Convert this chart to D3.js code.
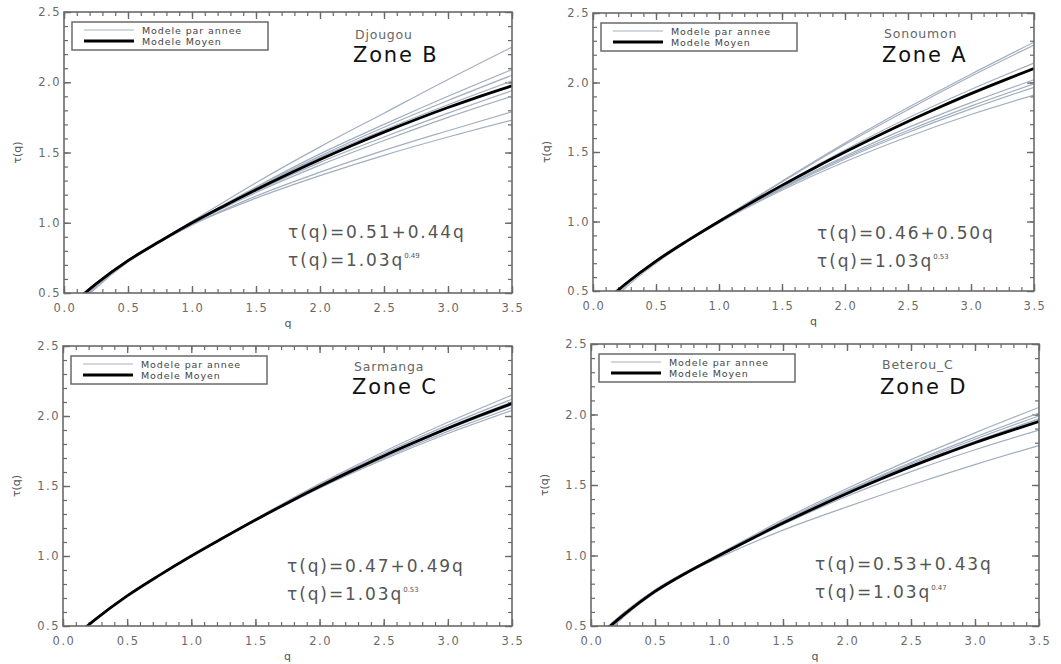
<!DOCTYPE html>
<html>
<head>
<meta charset="utf-8">
<script src="https://cdn.jsdelivr.net/npm/d3@7"></script>
<style>
  body { margin: 0; background: #fff; }
  svg { display: block; }
  text { font-family: "DejaVu Sans", "Liberation Sans", sans-serif; }
</style>
</head>
<body>
<svg id="chart"></svg>
<script>
// q values used by the curves
const qMean = [0.1, 0.25, 0.5, 0.75, 1.0, 1.25, 1.5, 1.75, 2.0, 2.25, 2.5, 2.75, 3.0, 3.25, 3.5];
const qYear = [0.1, 0.25, 0.5, 0.75, 1.0, 1.5, 2.0, 2.5, 3.0, 3.5];

// panel texts, order: top-left, top-right, bottom-left, bottom-right
const stations = ['Djougou', 'Sonoumon', 'Sarmanga', 'Beterou_C'];
const zones = ['Zone B', 'Zone A', 'Zone C', 'Zone D'];
const linFits = ['0.51+0.44q', '0.46+0.50q', '0.47+0.49q', '0.53+0.43q'];
const powCoef = ['1.03', '1.03', '1.03', '1.03'];
const powExp = ['0.49', '0.53', '0.53', '0.47'];
const legendLabels = ['Modele par annee', 'Modele Moyen'];

const xTicks = [0.0, 0.5, 1.0, 1.5, 2.0, 2.5, 3.0, 3.5];
const yTicks = [0.5, 1.0, 1.5, 2.0, 2.5];

// mean model
const meanB = [0.45, 0.565, 0.73, 0.868, 1.0, 1.12, 1.235, 1.345, 1.45, 1.55, 1.645, 1.735, 1.82, 1.90, 1.975];
const meanA = [0.43, 0.545, 0.715, 0.862, 1.0, 1.132, 1.26, 1.382, 1.50, 1.612, 1.72, 1.822, 1.92, 2.012, 2.10];
const meanC = [0.43, 0.545, 0.715, 0.862, 1.0, 1.13, 1.257, 1.379, 1.496, 1.608, 1.715, 1.816, 1.913, 2.004, 2.09];
const meanD = [0.46, 0.575, 0.745, 0.88, 1.0, 1.117, 1.23, 1.337, 1.44, 1.537, 1.63, 1.717, 1.80, 1.877, 1.95];

// one model per year
const yearsB = [
  [0.44, 0.56, 0.73, 0.872, 1.01, 1.285, 1.54, 1.78, 2.02, 2.25],
  [0.42, 0.55, 0.725, 0.865, 1.0, 1.255, 1.49, 1.70, 1.90, 2.09],
  [0.43, 0.555, 0.73, 0.868, 1.0, 1.25, 1.475, 1.68, 1.87, 2.05],
  [0.41, 0.545, 0.725, 0.866, 1.0, 1.245, 1.465, 1.66, 1.84, 2.01],
  [0.44, 0.565, 0.735, 0.868, 0.995, 1.225, 1.43, 1.61, 1.78, 1.94],
  [0.40, 0.535, 0.72, 0.862, 0.99, 1.215, 1.41, 1.585, 1.75, 1.90],
  [0.45, 0.57, 0.735, 0.865, 0.985, 1.19, 1.36, 1.515, 1.655, 1.79],
  [0.44, 0.565, 0.733, 0.864, 0.985, 1.175, 1.335, 1.48, 1.61, 1.73]
];
const yearsA = [
  [0.42, 0.545, 0.715, 0.862, 1.005, 1.29, 1.565, 1.82, 2.06, 2.29],
  [0.40, 0.535, 0.71, 0.86, 1.005, 1.285, 1.555, 1.805, 2.045, 2.27],
  [0.43, 0.55, 0.72, 0.864, 1.0, 1.265, 1.515, 1.745, 1.95, 2.14],
  [0.39, 0.53, 0.707, 0.858, 0.995, 1.245, 1.47, 1.675, 1.855, 2.02],
  [0.41, 0.54, 0.713, 0.86, 0.995, 1.24, 1.46, 1.655, 1.83, 1.99],
  [0.37, 0.515, 0.70, 0.856, 0.995, 1.235, 1.45, 1.64, 1.81, 1.965],
  [0.40, 0.535, 0.71, 0.858, 0.99, 1.225, 1.43, 1.61, 1.77, 1.91]
];
const yearsC = [
  [0.43, 0.548, 0.717, 0.863, 1.0, 1.265, 1.515, 1.745, 1.955, 2.15],
  [0.43, 0.545, 0.715, 0.862, 1.0, 1.262, 1.508, 1.732, 1.935, 2.12],
  [0.42, 0.542, 0.713, 0.861, 1.0, 1.258, 1.50, 1.722, 1.92, 2.10],
  [0.43, 0.546, 0.716, 0.862, 1.0, 1.256, 1.494, 1.71, 1.905, 2.08],
  [0.42, 0.543, 0.714, 0.861, 1.0, 1.254, 1.49, 1.70, 1.89, 2.06],
  [0.43, 0.547, 0.716, 0.862, 1.0, 1.252, 1.485, 1.69, 1.875, 2.04]
];
const yearsD = [
  [0.45, 0.58, 0.755, 0.888, 1.01, 1.255, 1.475, 1.68, 1.87, 2.05],
  [0.46, 0.585, 0.755, 0.886, 1.005, 1.245, 1.46, 1.66, 1.84, 2.01],
  [0.45, 0.575, 0.748, 0.883, 1.0, 1.24, 1.455, 1.65, 1.825, 1.99],
  [0.44, 0.57, 0.745, 0.881, 1.0, 1.235, 1.45, 1.64, 1.81, 1.97],
  [0.45, 0.575, 0.747, 0.881, 1.0, 1.232, 1.445, 1.635, 1.80, 1.96],
  [0.47, 0.59, 0.755, 0.884, 0.995, 1.22, 1.42, 1.595, 1.75, 1.89],
  [0.43, 0.56, 0.735, 0.874, 0.985, 1.18, 1.345, 1.50, 1.645, 1.78]
];

const means = [meanB, meanA, meanC, meanD];
const years = [yearsB, yearsA, yearsC, yearsD];

// frame of each panel in pixels, and where the station / zone texts sit
const frames = [
  {x0: 64, x1: 512, y0: 12, y1: 293, st: 27, zn: 50},
  {x0: 593, x1: 1034, y0: 13, y1: 291, st: 25, zn: 49},
  {x0: 63, x1: 512, y0: 346, y1: 626, st: 25, zn: 48},
  {x0: 591, x1: 1039, y0: 344, y1: 626, st: 25, zn: 50}
];

const size = {w: 1061, h: 664};
const gray = '#a3afbf';
const axisColor = '#6a6a6a';

const svg = d3.select('svg#chart')
  .attr('width', size.w)
  .attr('height', size.h);

frames.forEach((f, i) => drawPanel(f, i));

function drawPanel(f, i) {
  const x = d3.scaleLinear().domain([0, 3.5]).range([f.x0, f.x1]);
  const y = d3.scaleLinear().domain([0.5, 2.5]).range([f.y1, f.y0]);
  const g = svg.append('g').classed('panel', true);

  g.append('clipPath').attr('id', 'clip' + i)
    .append('rect')
    .attr('x', f.x0).attr('y', f.y0)
    .attr('width', f.x1 - f.x0).attr('height', f.y1 - f.y0);

  // ticks on all four sides, pointing in (minor every 0.1)
  const xMinor = d3.range(0, 36).map(d => d / 10);
  const yMinor = d3.range(5, 26).map(d => d / 10);
  const sides = [
    [d3.axisBottom(x), `translate(0,${f.y1})`, xMinor, xTicks],
    [d3.axisTop(x), `translate(0,${f.y0})`, xMinor, xTicks],
    [d3.axisLeft(y), `translate(${f.x0},0)`, yMinor, yTicks],
    [d3.axisRight(y), `translate(${f.x1},0)`, yMinor, yTicks]
  ];
  sides.forEach(([ax, tr, minor, major]) => {
    g.append('g').attr('transform', tr)
      .call(ax.tickValues(minor).tickSize(-4).tickFormat(''))
      .call(s => s.select('.domain').remove())
      .call(s => s.selectAll('line').attr('stroke', axisColor).attr('stroke-width', 1.2));
    g.append('g').attr('transform', tr)
      .call(ax.tickValues(major).tickSize(-7).tickFormat(''))
      .call(s => s.select('.domain').remove())
      .call(s => s.selectAll('line').attr('stroke', axisColor).attr('stroke-width', 1.4));
  });

  // tick labels
  g.append('g').selectAll('text')
    .data(xTicks)
    .join('text')
    .attr('x', d => x(d) + 1)
    .attr('y', f.y1 + 19)
    .attr('text-anchor', 'middle')
    .attr('font-size', 11.5)
    .attr('letter-spacing', 1.5)
    .attr('fill', axisColor)
    .text(d => d.toFixed(1));

  g.append('g').selectAll('text')
    .data(yTicks)
    .join('text')
    .attr('x', f.x0 - 3)
    .attr('y', d => y(d) + 4)
    .attr('text-anchor', 'end')
    .attr('font-size', 11.5)
    .attr('letter-spacing', 1.5)
    .attr('fill', axisColor)
    .text(d => d.toFixed(1));

  // axis titles
  g.append('text')
    .attr('x', (f.x0 + f.x1) / 2)
    .attr('y', f.y1 + 34)
    .attr('text-anchor', 'middle')
    .attr('font-size', 11)
    .attr('fill', '#555')
    .text('q');

  g.append('text')
    .attr('transform', `translate(${f.x0 - 43},${(f.y0 + f.y1) / 2}) rotate(-90)`)
    .attr('text-anchor', 'middle')
    .attr('font-size', 11)
    .attr('fill', '#555')
    .text('τ(q)');

  // curves
  const line = d3.line()
    .x(d => x(d[0]))
    .y(d => y(d[1]))
    .curve(d3.curveMonotoneX);

  const curves = g.append('g').attr('clip-path', `url(#clip${i})`);

  curves.selectAll('path.year')
    .data(years[i])
    .join('path')
    .classed('year', true)
    .attr('d', d => line(d3.zip(qYear, d)))
    .attr('fill', 'none')
    .attr('stroke', gray)
    .attr('stroke-width', 1.2);

  curves.append('path')
    .attr('d', line(d3.zip(qMean, means[i])))
    .attr('fill', 'none')
    .attr('stroke', '#000')
    .attr('stroke-width', 2.8);

  // frame
  g.append('rect')
    .attr('x', f.x0).attr('y', f.y0)
    .attr('width', f.x1 - f.x0).attr('height', f.y1 - f.y0)
    .attr('fill', 'none')
    .attr('stroke', axisColor)
    .attr('stroke-width', 1.6);

  // legend
  const lg = g.append('g').attr('transform', `translate(${f.x0 + 8},${f.y0 + 10})`);
  lg.append('rect')
    .attr('width', 196).attr('height', 28)
    .attr('fill', '#fff')
    .attr('stroke', axisColor)
    .attr('stroke-width', 1.5);
  legendLabels.forEach((t, k) => {
    lg.append('line')
      .attr('x1', 12).attr('x2', 62)
      .attr('y1', 8 + k * 11).attr('y2', 8 + k * 11)
      .attr('stroke', k === 0 ? gray : '#000')
      .attr('stroke-width', k === 0 ? 1.2 : 3);
    lg.append('text')
      .attr('x', 70)
      .attr('y', 11.5 + k * 11)
      .attr('font-size', 9.5)
      .attr('letter-spacing', 0.9)
      .attr('fill', '#444')
      .text(t);
  });

  // station and zone
  g.append('text')
    .attr('x', f.x0 + 291)
    .attr('y', f.y0 + f.st)
    .attr('font-size', 12.5)
    .attr('letter-spacing', 0.8)
    .attr('fill', '#666')
    .text(stations[i]);

  g.append('text')
    .attr('x', f.x0 + 289)
    .attr('y', f.y0 + f.zn)
    .attr('font-size', 21)
    .attr('letter-spacing', 1.8)
    .attr('fill', '#111')
    .text(zones[i]);

  // fitted laws
  g.append('text')
    .attr('x', f.x0 + 224)
    .attr('y', f.y0 + 226)
    .attr('font-size', 17)
    .attr('letter-spacing', 1.9)
    .attr('fill', '#555')
    .text(`τ(q)=${linFits[i]}`);

  const pw = g.append('text')
    .attr('x', f.x0 + 224)
    .attr('y', f.y0 + 254)
    .attr('font-size', 17)
    .attr('letter-spacing', 1.9)
    .attr('fill', '#555');
  pw.append('tspan').text(`τ(q)=${powCoef[i]}q`);
  pw.append('tspan')
    .attr('dy', -8)
    .attr('font-size', 7)
    .attr('letter-spacing', 0)
    .text(powExp[i]);
}
</script>
</body>
</html>
